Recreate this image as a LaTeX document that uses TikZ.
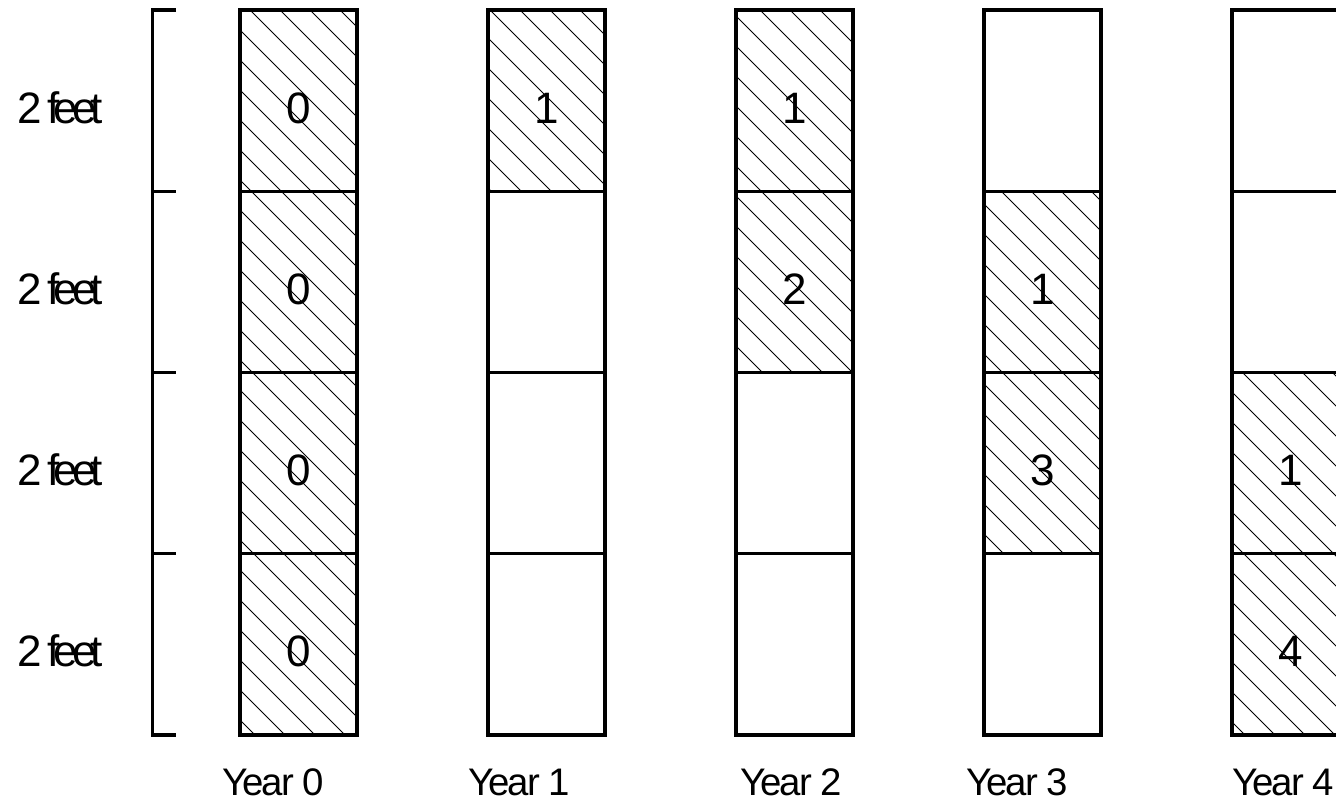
\documentclass[tikz,border=0pt]{standalone}
\usepackage{fontspec}
\setmainfont{Liberation Sans}
\newfontfamily\feetfont[LetterSpace=-14]{Liberation Sans}
\newfontfamily\yearfont[LetterSpace=-5]{Liberation Sans}
\newcommand\hatchcell[4]{%
  \begin{scope}
    \clip (#1,#2) rectangle (#3,#4);
    \foreach \d in {-750,-720,...,1350} \draw[hatchline] (\d,0) -- ++(804,804);
  \end{scope}}
\tikzset{
  hatchline/.style={line width=0.5pt,black},
  border/.style={line width=1.9pt,black},
  bracketline/.style={line width=1.7pt,black},
  digit/.style={inner sep=0pt,font=\fontsize{22}{24}\selectfont},
  feetlabel/.style={inner sep=0pt,font=\feetfont\fontsize{22}{24}\selectfont},
  yearlabel/.style={inner sep=0pt,anchor=base,font=\yearfont\fontsize{19.2}{22}\selectfont}
}
\begin{document}
\begin{tikzpicture}[x=0.5pt,y=-0.5pt]
\useasboundingbox (0,0) rectangle (1336,804);
\clip (0,0) rectangle (1336,804);
\fill[white] (0,0) rectangle (1336,804);
% hatched cells
% Year 0
\hatchcell{240}{10}{357}{191.5}
\hatchcell{240}{191.5}{357}{372.5}
\hatchcell{240}{372.5}{357}{553.5}
\hatchcell{240}{553.5}{357}{735}
% Year 1
\hatchcell{488}{10}{605}{191.5}
% Year 2
\hatchcell{736}{10}{853}{191.5}
\hatchcell{736}{191.5}{853}{372.5}
% Year 3
\hatchcell{984}{191.5}{1101}{372.5}
\hatchcell{984}{372.5}{1101}{553.5}
% Year 4
\hatchcell{1232}{372.5}{1349}{553.5}
\hatchcell{1232}{553.5}{1349}{735}
% column borders
\foreach \x [evaluate=\x as \xr using \x+117] in {240,488,736,984,1232}{
  \draw[border] (\x,10) rectangle (\xr,735);
  \foreach \y in {191.5,372.5,553.5} \draw[border] (\x,\y) -- (\xr,\y);
}
% bracket
\coordinate (bt) at (152.5,10);
\coordinate (bb) at (152.5,735);
\draw[bracketline] (176,10) -- (bt) -- (bb) -- (176,735);
\foreach \y in {191.5,372.5,553.5} \draw[bracketline] (152.5,\y) -- (176,\y);
% side labels
\node[feetlabel] (f1) at (60,108) {2 feet};
\node[feetlabel] (f2) at (60,289) {2 feet};
\node[feetlabel] (f3) at (60,470) {2 feet};
\node[feetlabel] (f4) at (60,651) {2 feet};
% digits
\node[digit] (d01) at (298.5,108) {0};
\node[digit] (d02) at (298.5,289) {0};
\node[digit] (d03) at (298.5,470) {0};
\node[digit] (d04) at (298.5,651) {0};
\node[digit] (d11) at (546.5,108) {1};
\node[digit] (d21) at (794.5,108) {1};
\node[digit] (d22) at (794.5,289) {2};
\node[digit] (d32) at (1042.5,289) {1};
\node[digit] (d33) at (1042.5,470) {3};
\node[digit] (d43) at (1290.5,470) {1};
\node[digit] (d44) at (1290.5,651) {4};
% year labels
\node[yearlabel] (y0) at (273,795) {Year 0};
\node[yearlabel] (y1) at (519,795) {Year 1};
\node[yearlabel] (y2) at (791,795) {Year 2};
\node[yearlabel] (y3) at (1017,795) {Year 3};
\node[yearlabel] (y4) at (1283,795) {Year 4};
\end{tikzpicture}
\end{document}
